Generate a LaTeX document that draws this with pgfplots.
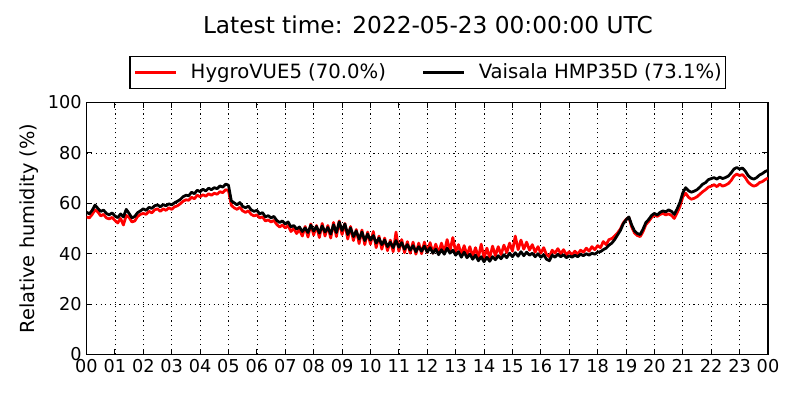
\documentclass[border=0pt]{standalone}
\usepackage{fontspec}
\setmainfont{DejaVu Sans}
\usepackage{pgfplots}
\usepackage{pgfplotstable}
\pgfplotsset{compat=1.18}
\pgfplotstableread{
t hv hmp
0.0 54.6 56.5
0.1 54.2 55.8
0.2 55.6 57.2
0.3 57.4 59.3
0.4 56.6 58.0
0.5 55.0 56.8
0.6 55.6 57.3
0.7 54.2 56.0
0.8 53.8 55.4
0.9 54.4 56.2
1.0 53.2 55.0
1.1 52.2 54.3
1.2 54.0 55.8
1.3 51.4 54.6
1.4 55.2 57.6
1.5 54.4 56.0
1.6 52.6 54.2
1.7 53.0 54.8
1.8 54.8 56.3
1.9 55.6 57.0
2.0 56.0 57.8
2.1 55.6 57.2
2.2 56.8 58.4
2.3 56.2 58.0
2.4 57.4 59.0
2.5 57.8 59.4
2.6 56.8 58.6
2.7 57.8 59.5
2.8 57.2 59.0
2.9 58.2 59.8
3.0 57.6 59.4
3.1 58.6 60.2
3.2 59.0 60.8
3.3 59.8 61.5
3.4 60.8 62.6
3.5 61.4 63.2
3.6 61.2 63.0
3.7 62.4 64.4
3.8 61.8 63.8
3.9 63.2 65.2
4.0 62.6 64.6
4.1 63.4 65.6
4.2 62.8 64.9
4.3 63.8 66.0
4.4 63.2 65.4
4.5 64.0 66.2
4.6 63.6 65.8
4.7 64.6 66.9
4.8 64.2 66.4
4.9 65.4 67.6
5.0 65.0 67.2
5.1 59.2 61.0
5.2 58.2 60.2
5.3 57.6 59.4
5.4 58.4 60.3
5.5 57.0 58.8
5.6 56.4 58.2
5.7 57.0 58.9
5.8 55.6 57.4
5.9 55.0 56.8
6.0 55.4 57.2
6.1 54.2 55.8
6.2 54.6 56.3
6.3 53.0 54.6
6.4 53.4 55.1
6.5 52.6 54.2
6.6 53.2 54.8
6.7 51.6 53.2
6.8 50.6 52.4
6.9 51.4 53.0
7.0 50.2 51.8
7.1 51.2 52.6
7.2 48.8 50.6
7.3 50.0 51.2
7.4 48.0 49.8
7.5 49.6 50.6
7.6 47.0 48.8
7.7 50.8 50.2
7.8 46.6 48.4
7.9 51.8 51.3
8.0 47.4 49.0
8.1 51.2 50.8
8.2 46.4 48.2
8.3 52.0 51.0
8.4 47.0 48.6
8.5 51.2 50.4
8.6 46.2 47.8
8.7 52.4 51.5
8.8 46.8 48.4
8.9 53.0 52.6
9.0 47.6 49.2
9.1 52.0 51.8
9.2 45.8 47.6
9.3 50.8 50.2
9.4 45.2 46.8
9.5 49.6 49.0
9.6 44.0 45.8
9.7 49.4 48.6
9.8 43.6 45.2
9.9 48.6 47.8
10.0 43.8 45.4
10.1 48.8 47.2
10.2 42.4 44.2
10.3 47.0 46.2
10.4 41.8 43.6
10.5 46.2 45.4
10.6 41.2 42.8
10.7 45.4 44.6
10.8 40.8 42.4
10.9 48.6 45.2
11.0 41.0 42.6
11.1 45.6 44.4
11.2 40.4 41.8
11.3 44.8 43.6
11.4 40.2 41.4
11.5 44.6 43.2
11.6 39.8 40.8
11.7 44.2 42.8
11.8 40.0 41.0
11.9 44.6 43.0
12.0 40.4 40.6
12.1 44.4 42.4
12.2 40.2 40.2
12.3 43.8 41.8
12.4 40.0 39.6
12.5 44.2 41.6
12.6 40.6 39.8
12.7 45.6 42.2
12.8 41.2 40.2
12.9 46.4 41.4
13.0 40.8 39.4
13.1 43.6 40.8
13.2 39.6 38.6
13.3 43.2 40.6
13.4 39.4 38.4
13.5 42.8 39.8
13.6 38.8 37.8
13.7 42.4 39.4
13.8 38.4 37.2
13.9 43.8 38.8
14.0 38.2 36.8
14.1 42.2 38.6
14.2 38.4 37.0
14.3 43.0 38.8
14.4 39.2 37.6
14.5 42.8 39.2
14.6 39.6 38.0
14.7 43.4 39.6
14.8 40.4 38.4
14.9 44.2 40.2
15.0 41.0 38.8
15.1 47.0 40.4
15.2 41.6 39.0
15.3 45.4 40.8
15.4 41.8 39.2
15.5 44.6 40.6
15.6 41.4 39.4
15.7 43.6 40.2
15.8 40.6 38.8
15.9 42.8 40.0
16.0 40.2 38.6
16.1 42.4 39.6
16.2 39.6 37.8
16.3 38.8 37.2
16.4 41.4 39.4
16.5 40.2 38.6
16.6 42.0 39.8
16.7 40.0 38.8
16.8 41.6 39.6
16.9 39.6 38.4
17.0 40.8 39.2
17.1 39.6 38.6
17.2 41.0 39.4
17.3 39.8 38.8
17.4 41.4 39.8
17.5 40.6 39.2
17.6 42.2 40.0
17.7 41.0 39.4
17.8 42.8 40.2
17.9 41.6 39.8
18.0 43.2 40.6
18.1 42.4 40.8
18.2 44.8 41.6
18.3 43.6 42.2
18.4 45.6 43.4
18.5 46.0 44.2
18.6 47.0 45.6
18.7 48.2 47.4
18.8 49.8 49.2
18.9 52.2 51.8
19.0 53.6 53.4
19.1 54.4 54.6
19.2 50.6 51.4
19.3 48.2 49.0
19.4 47.2 48.0
19.5 46.8 47.6
19.6 48.8 49.8
19.7 51.6 52.4
19.8 52.8 53.6
19.9 54.4 55.2
20.0 55.4 56.0
20.1 54.8 55.4
20.2 55.6 56.4
20.3 56.0 57.0
20.4 55.4 56.6
20.5 55.8 57.4
20.6 55.2 56.8
20.7 54.0 55.6
20.8 56.2 57.8
20.9 58.8 60.4
21.0 62.6 64.2
21.1 64.0 66.2
21.2 62.4 65.0
21.3 61.6 64.4
21.4 62.0 64.8
21.5 62.6 65.4
21.6 63.6 66.4
21.7 64.6 67.6
21.8 65.4 68.2
21.9 66.4 69.4
22.0 66.8 69.8
22.1 67.4 70.2
22.2 66.6 69.6
22.3 67.6 70.4
22.4 66.8 69.8
22.5 67.2 70.2
22.6 67.8 70.8
22.7 69.0 72.0
22.8 70.8 73.6
22.9 71.6 74.2
23.0 71.0 73.6
23.1 71.4 74.0
23.2 70.2 72.8
23.3 68.4 71.0
23.4 67.4 70.0
23.5 66.8 69.6
23.6 67.2 70.2
23.7 68.2 71.2
23.8 68.6 71.8
23.9 69.4 72.6
24.0 70.0 73.1
}\rhdata
\begin{document}
\begin{tikzpicture}
\path[use as bounding box] (0,0) rectangle (8in,4in);
\begin{axis}[
  at={(0.865in,0.455in)}, anchor=south west,
  scale only axis, width=6.815in, height=2.52in,
  xmin=0, xmax=24, ymin=0, ymax=100,
  xtick={0,1,...,24},
  xticklabels={00,01,02,03,04,05,06,07,08,09,10,11,12,13,14,15,16,17,18,19,20,21,22,23,00},
  ytick={0,20,40,60,80,100},
  /pgf/number format/assume math mode=true,
  ticklabel style={font=\fontsize{12.8}{15}\selectfont},
  tick align=inside,
  major tick length=4pt,
  tick style={black, line width=0.6pt},
  axis line style={black, line width=0.8pt},
  grid=major,
  major grid style={black, line width=0.5pt, dash pattern=on 0.8pt off 2.6pt},
  ylabel={Relative humidity (\%)},
  ylabel style={font=\fontsize{14}{17}\selectfont, at={(axis description cs:-0.0756,0.5)}, anchor=base, rotate=0},
  title={Latest time: 2022-05-23 00:00:00 UTC},
  title style={font=\fontsize{16.8}{20}\selectfont, at={(axis description cs:0.501,1.240)}, anchor=base},
  legend columns=2,
  legend style={at={(axis description cs:0.501,1.119)}, anchor=center,
    draw=black, line width=0.8pt,
    font=\fontsize{14.2}{17}\selectfont,
    inner xsep=0.04in, inner ysep=0.075in,
    nodes={inner sep=0pt},
    /tikz/every odd column/.append style={column sep=0.13in},
    /tikz/every even column/.append style={column sep=0.36in}},
  legend image code/.code={\draw[#1] (0in,0in) -- (0.41in,0in);},
]
\addplot[red, line width=2pt, line join=round] table[x=t, y=hv] {\rhdata};
\addlegendentry{HygroVUE5 (70.0\%)}
\addplot[black, line width=2pt, line join=round] table[x=t, y=hmp] {\rhdata};
\addlegendentry{Vaisala HMP35D (73.1\%)}
\end{axis}
\end{tikzpicture}
\end{document}
